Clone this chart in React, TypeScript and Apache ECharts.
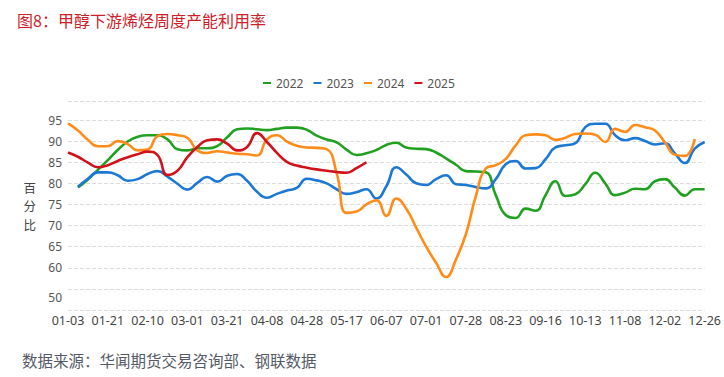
import React, { useEffect, useRef } from 'react';
import * as echarts from 'echarts';

const categories = [
  '01-03', '01-07', '01-12', '01-16',
  '01-21', '01-26', '01-31', '02-05',
  '02-10', '02-15', '02-20', '02-24',
  '03-01', '03-06', '03-11', '03-16',
  '03-21', '03-25', '03-30', '04-03',
  '04-08', '04-13', '04-18', '04-23',
  '04-28', '05-03', '05-08', '05-12',
  '05-17', '05-22', '05-27', '06-02',
  '06-07', '06-13', '06-19', '06-25',
  '07-01', '07-08', '07-14', '07-21',
  '07-28', '08-03', '08-10', '08-16',
  '08-23', '08-29', '09-04', '09-10',
  '09-16', '09-23', '09-30', '10-06',
  '10-13', '10-19', '10-26', '11-01',
  '11-08', '11-14', '11-20', '11-26',
  '12-02', '12-08', '12-14', '12-20',
  '12-26',
];

const seriesNames = ['2022', '2023', '2024', '2025'];

const values2022 = [
  null, 79.0, 80.9, 83.2, 85.5, 87.9, 89.9, 91.0, 91.4, 91.4,
  90.4, 88.1, 87.8, 88.3, 88.3, 88.8, 90.9, 92.8, 93.0, 92.8,
  92.6, 92.9, 93.2, 93.2, 92.7, 91.3, 90.4, 89.7, 88.0, 86.7,
  87.1, 87.9, 89.1, 89.6, 88.5, 88.2, 88.1, 87.3, 85.9, 84.4,
  82.9, 82.8, 82.6, 77.2, 72.5, 71.8, 74.0, 73.5, 77.2, 80.5,
  77.0, 77.4, 79.8, 82.5, 80.0, 77.2, 77.8, 78.7, 78.6, 80.5,
  81.0, 79.0, 77.1, 78.6, 78.6,
];

const values2023 = [
  null, 79.2, 81.1, 82.6, 82.6, 81.9, 80.6, 81.0, 82.2, 82.9,
  81.6, 79.9, 78.5, 80.1, 81.5, 80.4, 81.8, 82.2, 80.6, 78.0,
  76.6, 77.5, 78.3, 78.9, 81.1, 80.7, 80.0, 78.6, 77.5, 77.9,
  78.6, 76.4, 79.3, 83.8, 82.1, 80.0, 79.6, 81.0, 81.9, 79.8,
  79.6, 79.1, 78.8, 81.0, 84.5, 85.3, 83.5, 83.6, 85.7, 88.5,
  89.0, 89.5, 93.3, 94.1, 94.1, 91.4, 90.2, 90.7, 90.0, 89.2,
  89.5, 87.1, 84.8, 88.2, 89.8,
];

const values2024 = [
  94.2, 92.5, 90.3, 88.8, 88.8, 90.0, 89.3, 87.8, 88.0, 91.2,
  91.7, 91.4, 90.8, 87.8, 87.2, 87.6, 87.3, 87.0, 86.9, 86.6,
  90.4, 91.4, 89.9, 88.9, 88.5, 88.4, 88.1, 82.5, 73.0, 73.3,
  75.0, 76.0, 72.3, 76.4, 74.0, 69.5, 65.0, 61.2, 57.8, 62.0,
  68.0, 77.0, 83.5, 84.3, 85.8, 89.0, 91.4, 91.6, 91.4, 90.3,
  90.8, 91.7, 91.8, 91.5, 89.8, 92.9, 92.2, 93.8, 93.3, 92.5,
  89.7, 86.8, 86.5, 90.5, null,
];

const values2025 = [
  87.3, 86.3, 84.9, 83.8, 84.3, 85.3, 86.2, 86.9, 87.5, 86.7,
  82.0, 83.0, 86.2, 88.6, 90.2, 90.4, 89.4, 87.8, 88.6, 91.9,
  89.8, 87.2, 85.1, 84.2, 83.7, 83.3, 83.0, 82.7, 82.5, 83.6,
  85.0,
];

const seriesValues = [values2022, values2023, values2024, values2025];
const colors = ['#22a022', '#1c78d4', '#ff8c1a', '#d0121b'];

const FONT = '"Noto Sans", "Noto Sans CJK SC", sans-serif';
const CJK = '"Noto Sans CJK SC", sans-serif';

export default function App() {
  const ref = useRef<HTMLDivElement>(null);

  useEffect(() => {
    document.body.style.margin = '0';
    const chart = echarts.init(ref.current!, null, { renderer: 'svg' });
    chart.setOption({
      animation: false,
      backgroundColor: '#ffffff',
      title: [
        {
          text: '图8：甲醇下游烯烃周度产能利用率',
          left: 17,
          top: 12,
          padding: 0,
          textStyle: { color: '#d0202a', fontSize: 16, fontWeight: 'normal', fontFamily: CJK },
        },
        {
          text: '数据来源：华闻期货交易咨询部、钢联数据',
          left: 22,
          top: 352,
          padding: 0,
          textStyle: { color: '#555a66', fontSize: 15.5, fontWeight: 'normal', fontFamily: CJK },
        },
      ],
      legend: {
        data: seriesNames,
        left: 258,
        top: 72,
        icon: 'rect',
        itemWidth: 8,
        itemHeight: 2,
        itemGap: 10,
        textStyle: { color: '#555', fontSize: 12, fontFamily: FONT },
      },
      grid: { left: 68, right: 13, top: 101, bottom: 67, containLabel: false },
      xAxis: {
        type: 'category',
        boundaryGap: false,
        data: categories,
        axisLine: { show: false },
        axisTick: { show: false },
        splitLine: { show: false },
        axisLabel: { interval: 3, margin: 4, color: '#444', fontSize: 12.5, fontFamily: FONT },
      },
      yAxis: {
        type: 'value',
        min: 50,
        max: 99.5,
        interval: 5,
        name: '百\n分\n比',
        nameLocation: 'middle',
        nameRotate: 0,
        nameGap: 32,
        nameTextStyle: { color: '#444', fontSize: 12.5, lineHeight: 18.5, fontFamily: CJK },
        axisLine: { show: false },
        axisTick: { show: false },
        splitLine: { show: true, lineStyle: { type: 'dashed', color: '#dcdcdc', width: 1 } },
        axisLabel: {
          margin: 6,
          color: '#555',
          fontSize: 12,
          fontFamily: FONT,
          formatter: (v: number) => {
            const r = Math.round(v * 10) / 10;
            if (r === 55 || r > 96) return '';
            if (r === 50) return '{low|50}';
            return String(r);
          },
          rich: {
            low: { padding: [0, 0, 26, 0], color: '#555', fontSize: 12, fontFamily: FONT },
          },
        },
      },
      series: seriesNames.map((name, k) => ({
        name,
        type: 'line',
        data: seriesValues[k],
        smooth: true,
        showSymbol: false,
        symbol: 'none',
        lineStyle: { width: 2.6, color: colors[k] },
        itemStyle: { color: colors[k] },
      })),
    });
    return () => chart.dispose();
  }, []);

  return <div ref={ref} style={{ width: 724, height: 377 }} />;
}
